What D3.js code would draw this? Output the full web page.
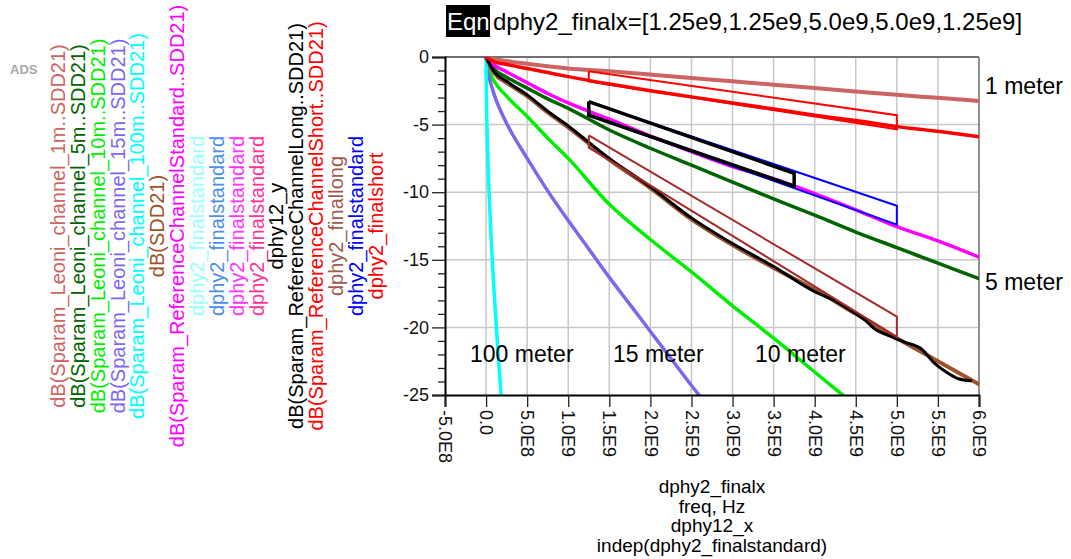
<!DOCTYPE html>
<html>
<head>
<meta charset="utf-8">
<script src="https://cdn.jsdelivr.net/npm/d3@7"></script>
<style>
  body { margin: 0; background: #fff; }
  svg { font-family: Arial, "Liberation Sans", sans-serif; }
</style>
</head>
<body>
<div id="chart"></div>
<script>
// S-parameter insertion loss (dB) vs frequency, with D-PHY masks

// shared frequency grid (Hz)
const freqs = [0, 0.1e9, 0.25e9, 0.5e9, 0.75e9, 1e9, 1.5e9, 2e9, 2.5e9, 3e9, 3.5e9, 4e9, 4.5e9, 5e9, 5.5e9, 6e9];
const leoni1m = [0, -0.15, -0.3, -0.5, -0.68, -0.85, -1.05, -1.3, -1.55, -1.8, -2.05, -2.3, -2.55, -2.8, -3.02, -3.25];
const leoni5m = [0, -0.9, -1.5, -2.3, -3.1, -3.8, -5.4, -6.75, -8.0, -9.25, -10.5, -11.7, -12.95, -14.1, -15.25, -16.4];
const refStandard = [0, -0.6, -1.1, -1.9, -2.7, -3.4, -4.6, -5.85, -7.0, -8.1, -9.0, -10.1, -11.3, -12.55, -13.6, -14.8];
const sdd21 = [0, -1.2, -1.9, -2.9, -4.1, -5.2, -7.6, -9.7, -12.0, -13.9, -15.6, -17.2, -19.0, -20.8, -22.5, -24.2];
const refShort = [0, -0.35, -0.55, -0.85, -1.15, -1.45, -2.0, -2.5, -2.95, -3.4, -3.85, -4.3, -4.7, -5.15, -5.5, -5.9];

const freqs10m = [0, 0.05e9, 0.1e9, 0.25e9, 0.5e9, 0.75e9, 1e9, 1.5e9, 2e9, 2.5e9, 3e9, 3.5e9, 4e9, 4.5e9];
const leoni10m = [0, -1.2, -1.8, -2.9, -4.4, -6.0, -7.5, -10.9, -13.5, -15.9, -18.4, -20.8, -23.3, -25.8];

const freqs15m = [0, 0.025e9, 0.05e9, 0.1e9, 0.25e9, 0.5e9, 0.75e9, 1e9, 1.25e9, 1.5e9, 1.75e9, 2e9, 2.25e9, 2.5e9, 2.75e9];
const leoni15m = [0, -1.2, -1.8, -2.8, -4.9, -7.5, -9.9, -12.1, -14.2, -16.3, -18.3, -20.3, -22.3, -24.3, -26.2];

const freqs100m = [0, 0.005e9, 0.01e9, 0.02e9, 0.04e9, 0.06e9, 0.08e9, 0.1e9, 0.13e9, 0.16e9, 0.19e9];
const leoni100m = [0, -3.5, -4.9, -7.2, -10.5, -13.2, -15.5, -17.6, -20.4, -23.1, -25.6];

const freqsLong = [0, 0.1e9, 0.25e9, 0.5e9, 0.75e9, 1e9, 1.5e9, 2e9, 2.5e9, 3e9, 3.5e9, 4e9, 4.2e9, 4.4e9, 4.6e9, 4.75e9, 4.9e9, 5.1e9, 5.3e9, 5.45e9, 5.6e9, 5.75e9, 5.9e9];
const refLong = [0, -1.1, -1.8, -2.8, -4.0, -5.1, -7.5, -9.6, -11.9, -13.8, -15.5, -17.35, -17.9, -18.6, -19.4, -20.2, -20.6, -21.1, -21.6, -22.6, -23.3, -23.8, -23.95];

// masks
const dphy2_finalx = [1.25e9, 1.25e9, 5.0e9, 5.0e9, 1.25e9];
const finalshortY = [-1.05, -1.8, -5.35, -4.3, -1.05];
const finalstandardY = [-3.3, -4.3, -12.4, -11.0, -3.3];
const finallongY = [-5.8, -6.7, -20.7, -19.2, -5.8];
const dphy12_x = [1.25e9, 1.25e9, 3.75e9, 3.75e9, 1.25e9];
const dphy12_y = [-3.3, -4.3, -9.55, -8.6, -3.3];

// axes
const xTicks = [-5e8, 0, 5e8, 1e9, 1.5e9, 2e9, 2.5e9, 3e9, 3.5e9, 4e9, 4.5e9, 5e9, 5.5e9, 6e9];
const xTickLabels = ["-5.0E8", "0.0", "5.0E8", "1.0E9", "1.5E9", "2.0E9", "2.5E9", "3.0E9", "3.5E9", "4.0E9", "4.5E9", "5.0E9", "5.5E9", "6.0E9"];
const yTicks = [0, -5, -10, -15, -20, -25];
const yMinorTicks = [-1, -2, -3, -4, -6, -7, -8, -9, -11, -12, -13, -14, -16, -17, -18, -19, -21, -22, -23, -24];

// legend (rotated column list)
const legendLabels = [
  "dB(Sparam_Leoni_channel_1m..SDD21)",
  "dB(Sparam_Leoni_channel_5m..SDD21)",
  "dB(Sparam_Leoni_channel_10m..SDD21)",
  "dB(Sparam_Leoni_channel_15m..SDD21)",
  "dB(Sparam_Leoni_channel_100m..SDD21)",
  "dB(SDD21)",
  "dB(Sparam_ReferenceChannelStandard..SDD21)",
  "dphy2_finalstandard",
  "dphy2_finalstandard",
  "dphy2_finalstandard",
  "dphy2_finalstandard",
  "dphy12_y",
  "dB(Sparam_ReferenceChannelLong..SDD21)",
  "dB(Sparam_ReferenceChannelShort..SDD21)",
  "dphy2_finallong",
  "dphy2_finalstandard",
  "dphy2_finalshort"
];
const legendColors = ["#cd6464", "#006400", "#00ee00", "#7b68ee", "#00ffff", "#a0522d", "#ff00ff",
  "#99ffff", "#4a8fe8", "#ff33ff", "#ff3399", "#000000", "#000000", "#ff0000", "#a05a50", "#0000ff", "#ff0000"];

const xAxisTitles = ["dphy2_finalx", "freq, Hz", "dphy12_x", "indep(dphy2_finalstandard)"];

const W = 1071, H = 559;
const plot = { left: 445, right: 979, top: 57, bottom: 395 };

const svg = d3.select("#chart").append("svg")
  .attr("width", W).attr("height", H);

const x = d3.scaleLinear().domain([-5e8, 6e9]).range([plot.left, plot.right]);
const y = d3.scaleLinear().domain([-25, 0]).range([plot.bottom, plot.top]);

// ADS tag
svg.append("text").attr("x", 10).attr("y", 74)
  .style("font-size", "13px").style("font-weight", "bold").attr("fill", "#a8a8a8")
  .text("ADS");

// legend
legendLabels.forEach((t, i) => {
  const cx = 58 + i * 19.85;
  svg.append("text")
    .attr("transform", `translate(${cx},226) rotate(-90)`)
    .attr("text-anchor", "middle")
    .attr("dy", "0.35em")
    .style("font-size", "20px")
    .attr("fill", legendColors[i])
    .text(t);
});

// title
svg.append("rect").attr("x", 446).attr("y", 5).attr("width", 44).attr("height", 32).attr("fill", "#000");
svg.append("text").attr("x", 447).attr("y", 30).style("font-size", "24px").attr("fill", "#fff").text("Eqn");
svg.append("text").attr("x", 493).attr("y", 30).style("font-size", "24px").attr("fill", "#000")
  .text("dphy2_finalx=[1.25e9,1.25e9,5.0e9,5.0e9,1.25e9]");

// grid
const grid = svg.append("g");
grid.selectAll("line.v").data(xTicks.filter(d => d > -5e8 && d < 6e9)).enter().append("line")
  .attr("x1", d => x(d)).attr("x2", d => x(d))
  .attr("y1", plot.top).attr("y2", plot.bottom)
  .attr("stroke", "#c8c8c8").attr("stroke-width", 1.5);
grid.selectAll("line.h").data(yTicks.filter(d => d < 0 && d > -25)).enter().append("line")
  .attr("x1", plot.left).attr("x2", plot.right)
  .attr("y1", d => y(d)).attr("y2", d => y(d))
  .attr("stroke", "#c8c8c8").attr("stroke-width", 1.5);

// frame top/right
svg.append("line").attr("x1", plot.left).attr("x2", plot.right).attr("y1", plot.top).attr("y2", plot.top)
  .attr("stroke", "#707070").attr("stroke-width", 2);
svg.append("line").attr("x1", plot.right).attr("x2", plot.right).attr("y1", plot.top).attr("y2", plot.bottom)
  .attr("stroke", "#909090").attr("stroke-width", 2);

// clip for traces
svg.append("defs").append("clipPath").attr("id", "clip")
  .append("rect").attr("x", plot.left).attr("y", plot.top)
  .attr("width", plot.right - plot.left).attr("height", plot.bottom - plot.top);

const traces = svg.append("g").attr("clip-path", "url(#clip)");

const curve = d3.line().x(d => x(d[0])).y(d => y(d[1])).curve(d3.curveMonotoneX);
const poly = d3.line().x(d => x(d[0])).y(d => y(d[1]));

function trace(xs, ys, color, w) {
  traces.append("path").datum(d3.zip(xs, ys))
    .attr("d", curve).attr("fill", "none")
    .attr("stroke", color).attr("stroke-width", w)
    .attr("stroke-linejoin", "round").attr("stroke-linecap", "round");
}
function mask(xs, ys, color, w) {
  traces.append("path").datum(d3.zip(xs, ys))
    .attr("d", poly).attr("fill", "none")
    .attr("stroke", color).attr("stroke-width", w)
    .attr("stroke-linejoin", "miter");
}

trace(freqs, leoni1m, "#cd6464", 4);
trace(freqs, leoni5m, "#006400", 3.5);
trace(freqs10m, leoni10m, "#00ee00", 3.5);
trace(freqs15m, leoni15m, "#7b68ee", 3.5);
trace(freqs100m, leoni100m, "#00ffff", 3.5);
trace(freqs, sdd21, "#a0522d", 4);
trace(freqs, refStandard, "#ff00ff", 3.5);
mask(dphy2_finalx, finalstandardY, "#0000ff", 2);
mask(dphy12_x, dphy12_y, "#000000", 3.5);
trace(freqsLong, refLong, "#000000", 3);
trace(freqs, refShort, "#ff0000", 3.5);
mask(dphy2_finalx, finallongY, "#a52a2a", 2);
mask(dphy2_finalx, finalshortY, "#ff0000", 2);

// y axis
svg.append("g").attr("transform", `translate(${plot.left},0)`)
  .call(d3.axisLeft(y).tickValues(yTicks).tickSize(13).tickPadding(3).tickFormat(d => d));
svg.append("g").attr("transform", `translate(${plot.left},0)`)
  .call(d3.axisLeft(y).tickValues(yMinorTicks).tickSize(7).tickFormat(""))
  .call(g => g.select(".domain").remove());

// x axis
const xAxis = svg.append("g").attr("transform", `translate(0,${plot.bottom})`)
  .call(d3.axisBottom(x).tickValues(xTicks).tickSize(12).tickFormat((d, i) => xTickLabels[i]));
xAxis.selectAll("text")
  .attr("transform", "rotate(90)")
  .attr("x", 15).attr("y", 0).attr("dy", "0.35em")
  .style("text-anchor", "start");

svg.selectAll(".domain").attr("stroke", "#000").attr("stroke-width", 2);
svg.selectAll(".tick line").attr("stroke", "#222").attr("stroke-width", 1.3);
svg.selectAll(".tick text").style("font-size", "18px").attr("fill", "#111");

// curve labels
const labels = [
  { t: "1 meter", x: 985, y: 94 },
  { t: "5 meter", x: 985, y: 290 },
  { t: "100 meter", x: 470, y: 362 },
  { t: "15 meter", x: 613, y: 362 },
  { t: "10 meter", x: 755, y: 362 }
];
svg.selectAll("text.lab").data(labels).enter().append("text")
  .attr("x", d => d.x).attr("y", d => d.y)
  .style("font-size", "23px").attr("fill", "#000")
  .text(d => d.t);

// x axis titles
svg.selectAll("text.xt").data(xAxisTitles).enter().append("text")
  .attr("x", 712).attr("y", (d, i) => 493 + i * 19.6)
  .attr("text-anchor", "middle")
  .style("font-size", "19px").attr("fill", "#000")
  .text(d => d);
</script>
</body>
</html>
